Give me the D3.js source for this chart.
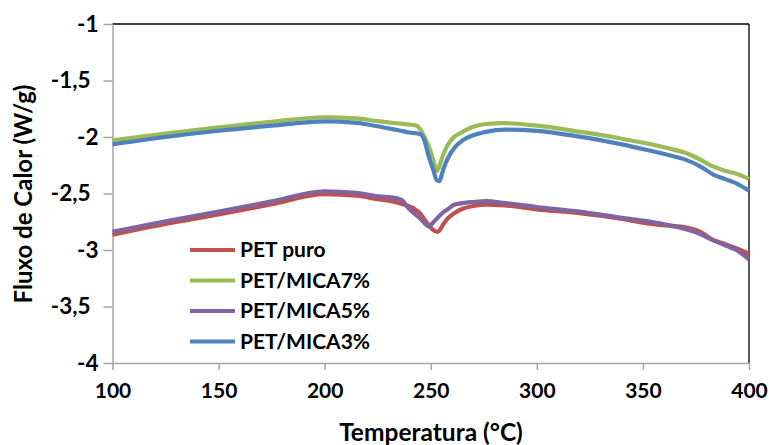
<!DOCTYPE html>
<html>
<head>
<meta charset="utf-8">
<script src="https://cdn.jsdelivr.net/npm/d3@7"></script>
<style>
  body { margin: 0; background: #fff; }
  text { font-family: Lato, "Open Sans", sans-serif; font-weight: bold; fill: #000; }
</style>
</head>
<body>
<div id="vis"></div>
<script>
// chart frame
const FRAME_WIDTH = 769;
const FRAME_HEIGHT = 445;
const MARGINS = {left: 112.5, right: 20, top: 24, bottom: 82};

const VIS_WIDTH = FRAME_WIDTH - MARGINS.left - MARGINS.right;
const VIS_HEIGHT = FRAME_HEIGHT - MARGINS.top - MARGINS.bottom;

// data
const temps = [100, 125, 150, 175, 200, 215, 225, 232, 236, 240, 243, 245, 247, 249, 251, 253, 254, 256, 258, 261, 265, 270, 276, 285, 300, 320, 340, 352, 362, 370, 377, 383, 389, 394, 400];

const petPuro = [-2.865, -2.77, -2.685, -2.595, -2.505, -2.52, -2.55, -2.57, -2.59, -2.615, -2.645, -2.675, -2.73, -2.78, -2.82, -2.84, -2.83, -2.77, -2.72, -2.675, -2.635, -2.61, -2.598, -2.605, -2.64, -2.675, -2.725, -2.765, -2.785, -2.8, -2.84, -2.91, -2.95, -2.985, -3.035];
const mica7 = [-2.03, -1.97, -1.915, -1.865, -1.825, -1.835, -1.86, -1.875, -1.882, -1.89, -1.897, -1.93, -2.0, -2.08, -2.19, -2.3, -2.26, -2.15, -2.07, -2.0, -1.955, -1.91, -1.885, -1.878, -1.9, -1.953, -2.015, -2.058, -2.1, -2.14, -2.2, -2.26, -2.3, -2.325, -2.37];
const mica5 = [-2.838, -2.745, -2.66, -2.57, -2.48, -2.495, -2.525, -2.535, -2.555, -2.64, -2.69, -2.72, -2.76, -2.79, -2.76, -2.72, -2.7, -2.665, -2.64, -2.6, -2.585, -2.575, -2.567, -2.585, -2.62, -2.66, -2.715, -2.745, -2.78, -2.815, -2.86, -2.915, -2.96, -3.0, -3.083];
const mica3 = [-2.065, -2.0, -1.945, -1.9, -1.862, -1.875, -1.905, -1.93, -1.945, -1.96, -1.967, -1.975, -2.03, -2.17, -2.28, -2.385, -2.39, -2.28, -2.19, -2.1, -2.03, -1.985, -1.955, -1.935, -1.945, -1.997, -2.065, -2.115, -2.16, -2.2, -2.26, -2.33, -2.375, -2.41, -2.475];

const seriesNames = ["PET puro", "PET/MICA7%", "PET/MICA5%", "PET/MICA3%"];
const seriesColors = ["#C0504D", "#9BBB59", "#8064A2", "#4F81BD"];
const seriesValues = [petPuro, mica7, mica5, mica3];

const xTicks = [100, 150, 200, 250, 300, 350, 400];
const yTicks = [-1, -1.5, -2, -2.5, -3, -3.5, -4];

const FRAME = d3.select("#vis")
  .append("svg")
    .attr("width", FRAME_WIDTH)
    .attr("height", FRAME_HEIGHT);

const X_SCALE = d3.scaleLinear().domain([100, 400]).range([0, VIS_WIDTH]);
const Y_SCALE = d3.scaleLinear().domain([-4, -1]).range([VIS_HEIGHT, 0]);

const plot = FRAME.append("g")
  .attr("transform", "translate(" + MARGINS.left + "," + MARGINS.top + ")");

// plot area border (top and right are black)
plot.append("line")
  .attr("x1", 0).attr("x2", VIS_WIDTH).attr("y1", 0).attr("y2", 0)
  .attr("stroke", "#000").attr("stroke-width", 1.3);
plot.append("line")
  .attr("x1", VIS_WIDTH).attr("x2", VIS_WIDTH).attr("y1", 0).attr("y2", VIS_HEIGHT)
  .attr("stroke", "#000").attr("stroke-width", 1.3);

// axes
const fmt = (d) => String(d).replace(".", ",");

const xAxis = plot.append("g")
  .attr("transform", "translate(0," + VIS_HEIGHT + ")")
  .call(d3.axisBottom(X_SCALE).tickValues(xTicks).tickSize(7).tickSizeOuter(0).tickPadding(13));

const yAxis = plot.append("g")
  .call(d3.axisLeft(Y_SCALE).tickValues(yTicks).tickFormat(fmt).tickSize(9).tickSizeOuter(0).tickPadding(5));

[xAxis, yAxis].forEach((ax) => {
  ax.select(".domain").attr("stroke", "#a6a6a6").attr("stroke-width", 1.5);
  ax.selectAll(".tick line").attr("stroke", "#a6a6a6").attr("stroke-width", 1.5);
  ax.selectAll(".tick text")
    .attr("font-family", "Lato, sans-serif")
    .attr("font-weight", "bold")
    .attr("font-size", "21px")
    .attr("fill", "#000");
});

// y labels a bit bigger, decimals sit further left like the original
yAxis.selectAll(".tick text")
  .attr("font-size", "22.5px")
  .attr("dx", (d) => Number.isInteger(d) ? 0 : -8);

// lines
const line = d3.line()
  .x((d) => X_SCALE(d[0]))
  .y((d) => Y_SCALE(d[1]))
  .curve(d3.curveMonotoneX);

seriesValues.forEach((vals, i) => {
  plot.append("path")
    .datum(temps.map((t, j) => [t, vals[j]]))
    .attr("fill", "none")
    .attr("stroke", seriesColors[i])
    .attr("stroke-width", 4.2)
    .attr("stroke-linejoin", "round")
    .attr("d", line);
});

// legend
const legend = FRAME.append("g");
seriesNames.forEach((name, i) => {
  const y = 250 + i * 30.5;
  legend.append("line")
    .attr("x1", 190).attr("x2", 235).attr("y1", y).attr("y2", y)
    .attr("stroke", seriesColors[i]).attr("stroke-width", 4);
  legend.append("text")
    .attr("x", 240).attr("y", y)
    .attr("dy", "0.35em")
    .attr("font-size", "21px")
    .text(name);
});

// axis titles
FRAME.append("text")
  .attr("x", 431).attr("y", 432)
  .attr("text-anchor", "middle")
  .attr("dy", "0.35em")
  .attr("font-size", "24.5px")
  .text("Temperatura (°C)");

FRAME.append("text")
  .attr("transform", "translate(24,194) rotate(-90)")
  .attr("text-anchor", "middle")
  .attr("dy", "0.35em")
  .attr("font-size", "24px")
  .text("Fluxo de Calor (W/g)");
</script>
</body>
</html>
